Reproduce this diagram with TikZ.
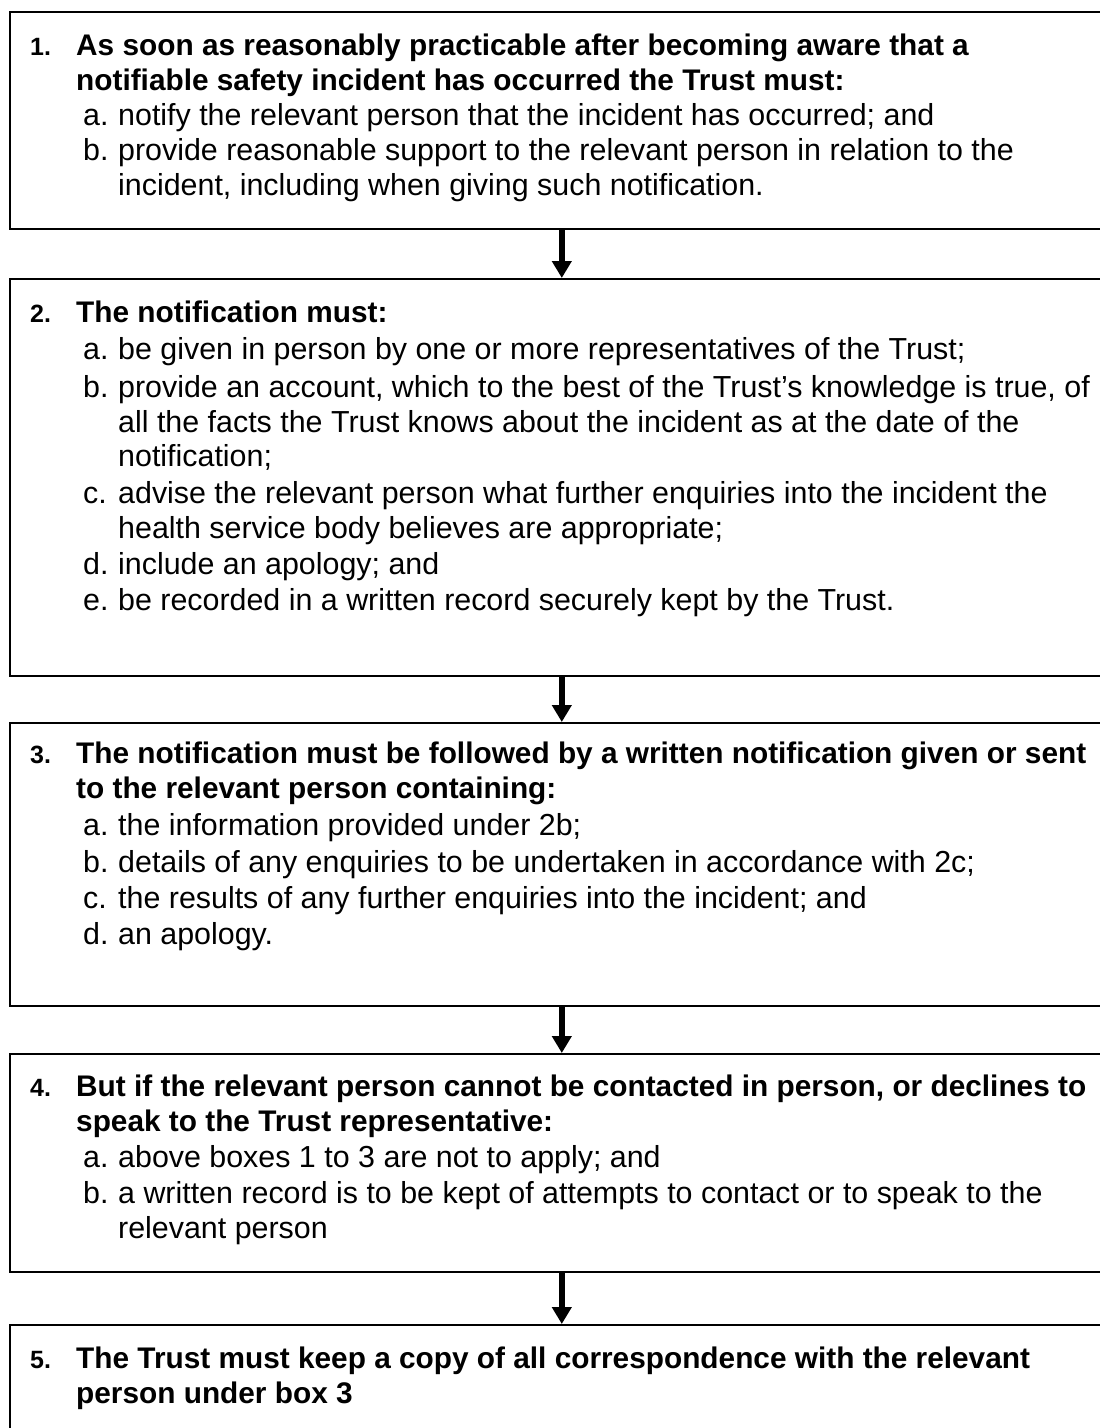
\documentclass[tikz,border=0pt]{standalone}
\usepackage{fontspec}
\setmainfont{Liberation Sans}
\usetikzlibrary{arrows.meta}
\begin{document}
\begin{tikzpicture}[x=1pt,y=-1pt,
  box/.style={draw, line width=1.6pt, anchor=north west, inner sep=0pt, minimum width=1104pt},
  num/.style={anchor=base west, inner sep=0pt, font=\fontsize{25}{29}\selectfont\bfseries},
  head/.style={anchor=base west, inner sep=0pt, font=\fontsize{29.8}{35}\selectfont\bfseries},
  lbl/.style={anchor=base west, inner sep=0pt, font=\fontsize{30.4}{35}\selectfont},
  txt/.style={anchor=base west, inner sep=0pt, font=\fontsize{30.4}{35}\selectfont},
  flow/.style={line width=5.8pt, -{Triangle[width=19pt,length=17pt]}}]
\useasboundingbox (0,0) rectangle (1100,1428);

% boxes
\node[box, minimum height=217pt] (b1) at (9,11) {};
\node[box, minimum height=397pt] (b2) at (9,278) {};
\node[box, minimum height=283pt] (b3) at (9,722) {};
\node[box, minimum height=218pt] (b4) at (9,1053) {};
\node[box, minimum height=160pt] (b5) at (9,1324) {};

% connectors
\draw[flow] (b1.south) -- (b2.north);
\draw[flow] (b2.south) -- (b3.north);
\draw[flow] (b3.south) -- (b4.north);
\draw[flow] (b4.south) -- (b5.north);

% box 1
\node[num] (n1) at (30,55) {1.};
\node[head] (h1a) at (76,55) {As soon as reasonably practicable after becoming aware that a};
\node[head] (h1b) at (76,90) {notifiable safety incident has occurred the Trust must:};
\node[lbl] (l1a) at (83,125) {a.};
\node[txt] (t1a) at (118,125) {notify the relevant person that the incident has occurred; and};
\node[lbl] (l1b) at (83,160) {b.};
\node[txt] (t1b) at (118,160) {provide reasonable support to the relevant person in relation to the};
\node[txt] (t1c) at (118,195) {incident, including when giving such notification.};

% box 2
\node[num] (n2) at (30,322) {2.};
\node[head] (h2a) at (76,322) {The notification must:};
\node[lbl] (l2a) at (83,359) {a.};
\node[txt] (t2a) at (118,359) {be given in person by one or more representatives of the Trust;};
\node[lbl] (l2b) at (83,397) {b.};
\node[txt] (t2b) at (118,397) {provide an account, which to the best of the Trust’s knowledge is true, of};
\node[txt] (t2c) at (118,432) {all the facts the Trust knows about the incident as at the date of the};
\node[txt] (t2d) at (118,466) {notification;};
\node[lbl] (l2c) at (83,503) {c.};
\node[txt] (t2e) at (118,503) {advise the relevant person what further enquiries into the incident the};
\node[txt] (t2f) at (118,538) {health service body believes are appropriate;};
\node[lbl] (l2d) at (83,574) {d.};
\node[txt] (t2g) at (118,574) {include an apology; and};
\node[lbl] (l2e) at (83,610) {e.};
\node[txt] (t2h) at (118,610) {be recorded in a written record securely kept by the Trust.};

% box 3
\node[num] (n3) at (30,763) {3.};
\node[head] (h3a) at (76,763) {The notification must be followed by a written notification given or sent};
\node[head] (h3b) at (76,798) {to the relevant person containing:};
\node[lbl] (l3a) at (83,835) {a.};
\node[txt] (t3a) at (118,835) {the information provided under 2b;};
\node[lbl] (l3b) at (83,872) {b.};
\node[txt] (t3b) at (118,872) {details of any enquiries to be undertaken in accordance with 2c;};
\node[lbl] (l3c) at (83,908) {c.};
\node[txt] (t3c) at (118,908) {the results of any further enquiries into the incident; and};
\node[lbl] (l3d) at (83,944) {d.};
\node[txt] (t3d) at (118,944) {an apology.};

% box 4
\node[num] (n4) at (30,1096) {4.};
\node[head] (h4a) at (76,1096) {But if the relevant person cannot be contacted in person, or declines to};
\node[head] (h4b) at (76,1131) {speak to the Trust representative:};
\node[lbl] (l4a) at (83,1167) {a.};
\node[txt] (t4a) at (118,1167) {above boxes 1 to 3 are not to apply; and};
\node[lbl] (l4b) at (83,1203) {b.};
\node[txt] (t4b) at (118,1203) {a written record is to be kept of attempts to contact or to speak to the};
\node[txt] (t4c) at (118,1238) {relevant person};

% box 5
\node[num] (n5) at (30,1368) {5.};
\node[head] (h5a) at (76,1368) {The Trust must keep a copy of all correspondence with the relevant};
\node[head] (h5b) at (76,1403) {person under box 3};
\end{tikzpicture}
\end{document}
